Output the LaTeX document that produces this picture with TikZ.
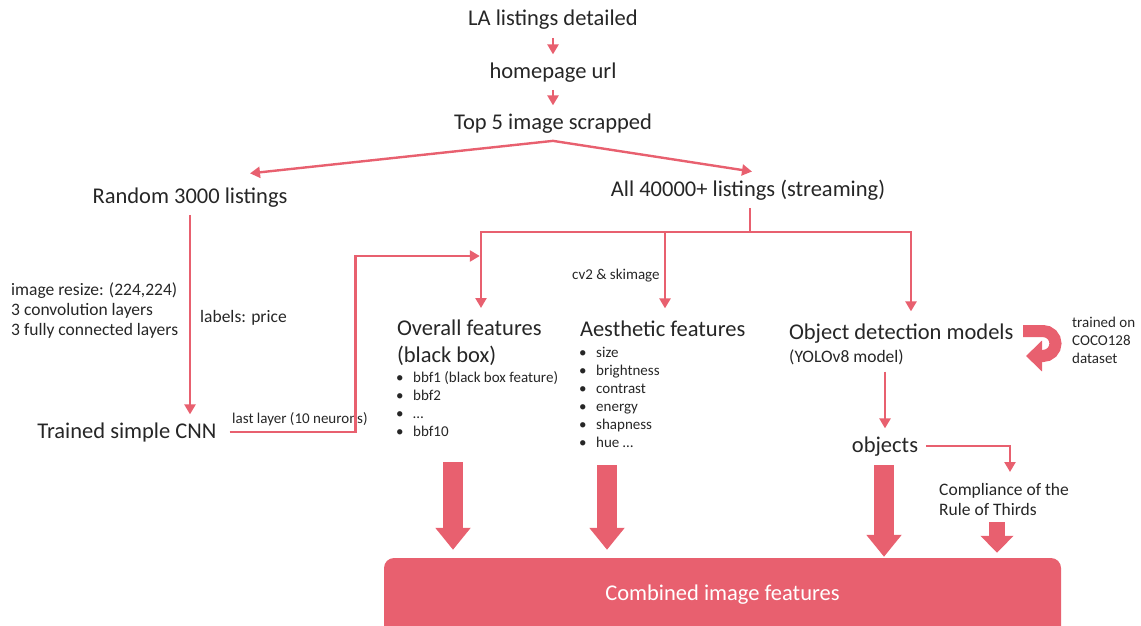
\documentclass[tikz,border=0pt]{standalone}
\usepackage{fontspec}
\setmainfont{Carlito}
\usetikzlibrary{arrows.meta, positioning, calc}
\definecolor{rose}{HTML}{E8606F}
\definecolor{encre}{HTML}{262626}
\newcommand{\puce}[1]{\makebox[17pt][l]{\textbullet}#1}
\tikzset{
  titre/.style={font=\fontsize{22.5}{27}\selectfont, text=encre, inner sep=0pt,
    outer sep=8pt, align=left},
  note/.style={font=\fontsize{17.5}{20}\selectfont, text=encre, inner sep=0pt,
    align=left},
  liste/.style={font=\fontsize{15}{18}\selectfont, text=encre, inner sep=0pt,
    align=left},
  fleche/.style={-{Triangle[width=11pt, length=10pt]}, line width=2.4pt, color=rose},
  trait/.style={line width=2.4pt, color=rose},
  grosse/.style={-{Triangle[width=34pt, length=22pt]}, line width=20pt, color=rose},
  boucle/.style={-{Triangle[width=30pt, length=16pt]}, line width=12pt, color=rose},
  bandeau/.style={rectangle, rounded corners=10pt, fill=rose, text=white,
    font=\fontsize{22.5}{27}\selectfont, minimum width=677pt, minimum height=90pt}
}
\begin{document}
\begin{tikzpicture}[x=1pt, y=-1pt]
    \useasboundingbox (0,0) rectangle (1141,626);

    \node[titre, anchor=base] (la) at (553,26) {LA listings detailed};
    \node[titre, anchor=base] (url) at (553,78) {homepage url};
    \node[titre, anchor=base] (top) at (553,129) {Top 5 image scrapped};
    \node[titre, anchor=base] (rand) at (190,203) {Random 3000 listings};
    \node[titre, anchor=base] (all) at (748,196) {All 40000+ listings (streaming)};
    \node[titre, anchor=base] (cnn) at (127,438) {Trained simple CNN};
    \node[titre, anchor=north west] (ovl) at (389,312) {Overall features\\(black box)};
    \node[titre, anchor=base west] (aes) at (572,336) {Aesthetic features};
    \node[titre, anchor=base west] (odm) at (781,339) {Object detection models};
    \node[note, anchor=base west] (yolo) at (789,362) {(YOLOv8 model)};
    \node[titre, anchor=base] (obj) at (885,452) {objects};
    \node[note, anchor=north west] (rot) at (939,483) {Compliance of the\\Rule of Thirds};
    \node[bandeau] (comb) at (722.5,603) {\raisebox{20pt}{Combined image features}};

    \node[liste, anchor=north west] (bbf) at (396,371)
      {\puce{bbf1 (black box feature)}\\\puce{bbf2}\\\puce{…}\\\puce{bbf10}};
    \node[liste, anchor=north west] (mesures) at (579,347)
      {\puce{size}\\\puce{brightness}\\\puce{contrast}\\\puce{energy}\\\puce{shapness}\\\puce{hue …}};
    \node[note, anchor=north west] (param) at (11,282)
      {image resize: (224,224)\\3 convolution layers\\3 fully connected layers};
    \node[note, anchor=base west] (prix) at (200,322) {labels: price};
    \node[liste, anchor=base west] (last) at (232,423) {last layer (10 neurons)};
    \node[liste, anchor=base west] (cv) at (572,279) {cv2 \& skimage};
    \node[liste, anchor=north west] (coco) at (1072,317) {trained on\\COCO128\\dataset};

    \coordinate (b0) at (750,232);
    \coordinate (b1) at (481,232);
    \coordinate (b2) at (665,232);
    \coordinate (b3) at (911,232);

    % top chain
    \draw[fleche] (la) -- (url);
    \draw[fleche] (url) -- (top);
    \draw[fleche] (top.south) -- ([xshift=60pt, yshift=6pt]rand.north);
    \draw[fleche] (top.south) -- ([xshift=4pt]all.north);

    % CNN branch
    \draw[fleche] (rand.south) -- (rand.south |- cnn.north);
    \draw[fleche, shorten >=1.2pt] ([xshift=5pt]cnn.east) -- ++(126,0) |- ([yshift=-24pt]b1);

    % streaming branch
    \draw[trait] (all.south -| b0) -- (b0);
    \draw[fleche] (b0) -- (b1) -- ([yshift=4pt]b1 |- ovl.north);
    \draw[fleche] (b0) -- (b3) -- ([yshift=4pt]b3 |- odm.north);
    \draw[fleche] (b2) -- ([yshift=4pt]b2 |- aes.north);

    % object detection
    \draw[boucle] (1023,331) -- (1043,331) arc[start angle=-90, end angle=90, radius=12.5] -- (1026,356);
    \draw[fleche, shorten <=7pt] (obj.north |- yolo.south) -- (obj.north);
    \draw[fleche] (obj.east) -| ([xshift=71pt, yshift=11pt]rot.north west);

    % into combined features
    \coordinate (g1) at (453,462);
    \coordinate (g2) at (607,465);
    \coordinate (g3) at (884,465);
    \coordinate (g4) at (997,522);
    \draw[grosse, shorten >=8pt] (g1) -- (g1 |- comb.north);
    \draw[grosse, shorten >=8pt] (g2) -- (g2 |- comb.north);
    \draw[grosse, shorten >=1pt] (g3) -- (g3 |- comb.north);
    \draw[grosse, line width=16pt, -{Triangle[width=32pt, length=17pt]}, shorten >=5pt]
      (g4) -- (g4 |- comb.north);
\end{tikzpicture}
\end{document}
